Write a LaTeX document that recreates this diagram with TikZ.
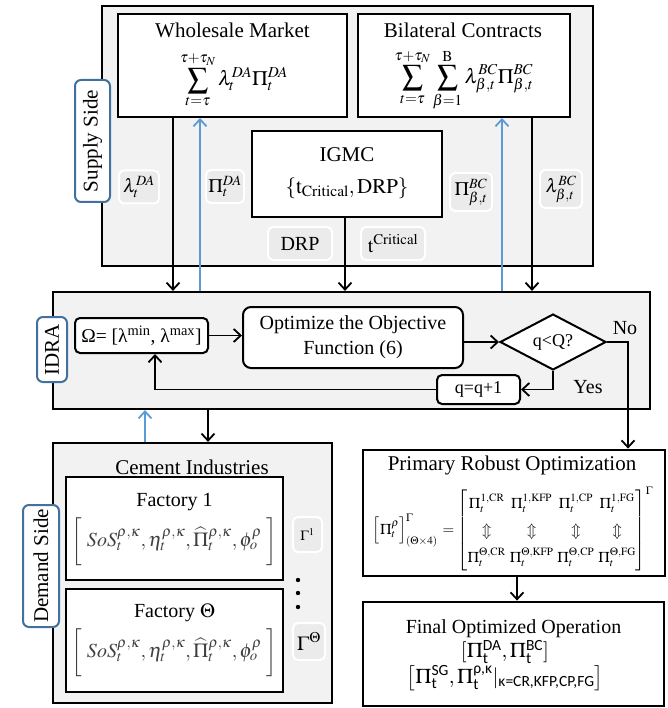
\documentclass[tikz,border=0pt]{standalone}
\usepackage{amsmath}
\usepackage{mathptmx}
\usepackage{fontspec}
\setmainfont{Liberation Serif}
\newfontfamily\carl{Carlito}
\usetikzlibrary{arrows.meta,shapes.geometric}
\definecolor{bgray}{HTML}{F2F2F2}
\definecolor{lblue}{HTML}{5B9BD5}
\definecolor{sblue}{HTML}{41719C}
\definecolor{lbl}{HTML}{EBEBEB}
\tikzset{
 grp/.style={draw, line width=2.2pt, fill=bgray, inner sep=0pt},
 wbox/.style={draw, line width=2pt, fill=white, align=center, inner sep=0pt},
 side/.style={draw=sblue, line width=2pt, fill=white, rounded corners=6pt, rotate=90, inner sep=0pt, font=\fontsize{21}{24}\selectfont},
 lab/.style={draw=white, line width=2pt, fill=lbl, rounded corners=5pt, inner sep=0pt},
 arr/.style={line width=1.8pt, -{Straight Barb[length=7pt,width=13pt,line width=1.8pt]}},
 barr/.style={arr, draw=lblue},
 rbox/.style={draw, line width=2pt, fill=white, rounded corners=8pt, align=center, inner sep=0pt},
 txt/.style={inner sep=0pt, align=center},
}
\begin{document}
\begin{tikzpicture}[x=1pt,y=-1pt]
\useasboundingbox (0,0) rectangle (667,708);
% ---------------- Supply side ----------------
\node[grp, minimum width=491pt, minimum height=260pt] (supply) at (347.5,136) {};
\node[wbox, minimum width=229pt, minimum height=103pt] (ws) at (232.5,65.5) {};
\node[txt, font=\fontsize{21}{24}\selectfont] (wst) at (232.5,30) {Wholesale Market};
\node[txt, font=\fontsize{20.5}{24}\selectfont] (wsf) at (234,80) {$\displaystyle\sum_{t=\tau}^{\tau+\tau_N}\lambda_t^{DA}\Pi_t^{DA}$};
\node[wbox, minimum width=212pt, minimum height=103pt] (bc) at (464,65.5) {};
\node[txt, font=\fontsize{21}{24}\selectfont] (bct) at (463,30) {Bilateral Contracts};
\node[txt, font=\fontsize{20.5}{24}\selectfont] (bcf) at (464,80) {$\displaystyle\sum_{t=\tau}^{\tau+\tau_N}\sum_{\beta=1}^{\mathrm{B}}\lambda_{\beta,t}^{BC}\Pi_{\beta,t}^{BC}$};
\node[wbox, minimum width=190pt, minimum height=86pt] (igmc) at (347,174) {};
\node[txt, font=\fontsize{21}{24}\selectfont] (igmct) at (347,155) {IGMC};
\node[txt, font=\fontsize{21}{24}\selectfont] (igmcf) at (347,188) {$\{\mathrm{t}_{\mathrm{Critical}},\mathrm{DRP}\}$};
\node[side, minimum width=122pt, minimum height=35pt] (sside) at (92.5,141) {Supply Side};
% labels
\node[lab, minimum width=40pt, minimum height=33pt, font=\fontsize{19}{22}\selectfont] (l1) at (139,187) {$\lambda_t^{DA}$};
\node[lab, minimum width=38pt, minimum height=33pt, font=\fontsize{19}{22}\selectfont] (l2) at (225,186.5) {$\Pi_t^{DA}$};
\node[lab, minimum width=64pt, minimum height=33pt, font=\fontsize{20}{24}\selectfont] (l3) at (300,243.5) {DRP};
\node[lab, minimum width=64pt, minimum height=33pt, font=\fontsize{20}{24}\selectfont] (l4) at (393,243.5) {$\mathrm{t}^{\mathrm{Critical}}$};
\node[lab, minimum width=42pt, minimum height=38pt, font=\fontsize{19}{22}\selectfont] (l5) at (471,192) {$\Pi_{\beta,t}^{BC}$};
\node[lab, minimum width=42pt, minimum height=38pt, font=\fontsize{19}{22}\selectfont] (l6) at (561,189) {$\lambda_{\beta,t}^{BC}$};
% ---------------- IDRA ----------------
\node[grp, minimum width=597pt, minimum height=117pt] (idra) at (351.5,350.5) {};
\node[side, minimum width=65pt, minimum height=30pt] (iside) at (52,349.5) {IDRA};
\node[rbox, rounded corners=5pt, minimum width=133pt, minimum height=35pt, font=\fontsize{19.5}{22}\selectfont] (omega) at (141.5,335.5) {Ω= [λ\textsuperscript{min}, λ\textsuperscript{max}]};
\node[rbox, minimum width=220pt, minimum height=61pt, font=\fontsize{20}{25}\selectfont] (opt) at (353,337.5) {Optimize the Objective\\Function (6)};
\node[diamond, draw, line width=2pt, fill=white, inner sep=0pt, minimum width=106pt, minimum height=52pt, font=\fontsize{18}{22}\selectfont] (dia) at (553,342) {q<Q?};
\node[rbox, rounded corners=5pt, minimum width=83pt, minimum height=29pt, font=\fontsize{18}{22}\selectfont] (qb) at (478.5,389.5) {q=q+1};
\node[txt, font=\fontsize{20}{24}\selectfont] (no) at (625,328) {No};
\node[txt, font=\fontsize{20}{24}\selectfont] (yes) at (588,387) {Yes};
% ---------------- Demand side ----------------
\node[grp, minimum width=279pt, minimum height=260pt] (dem) at (192.5,573) {};
\node[txt, font=\fontsize{21}{24}\selectfont] (demt) at (192,467) {Cement Industries};
\node[wbox, line width=2.6pt, minimum width=217pt, minimum height=103pt] (f1) at (174.5,528.5) {};
\node[txt, font=\fontsize{20}{24}\selectfont] (f1t) at (174.5,502) {Factory 1};
\node[txt, text=black!75, font=\fontsize{20}{24}\selectfont] (f1v) at (174.5,542) {$\left[\rule[-20pt]{0pt}{46pt}\;SoS_t^{\rho,\kappa},\eta_t^{\rho,\kappa},\widehat{\Pi}_t^{\rho,\kappa},\phi_o^{\rho}\;\right]$};
\node[wbox, line width=2.6pt, minimum width=217pt, minimum height=103pt] (f2) at (174.5,640.5) {};
\node[txt, font=\fontsize{20}{24}\selectfont] (f2t) at (174.5,613) {Factory $\Theta$};
\node[txt, text=black!75, font=\fontsize{20}{24}\selectfont] (f2v) at (174.5,653) {$\left[\rule[-20pt]{0pt}{46pt}\;SoS_t^{\rho,\kappa},\eta_t^{\rho,\kappa},\widehat{\Pi}_t^{\rho,\kappa},\phi_o^{\rho}\;\right]$};
\node[lab, minimum width=29pt, minimum height=35pt, font=\fontsize{14}{16}\selectfont] (g1) at (307.5,534.5) {$\Gamma^{1}$};
\node[lab, minimum width=32pt, minimum height=37pt, font=\fontsize{20}{24}\selectfont] (g2) at (309,641.5) {$\Gamma^{\Theta}$};
\foreach \yy [count=\i] in {580,593,607} \fill (298,\yy) circle (2.2pt) coordinate (dot\i);
\node[side, minimum width=122pt, minimum height=36pt] (dside) at (41,566) {Demand Side};
% ---------------- Primary robust ----------------
\node[wbox, line width=2.8pt, minimum width=302pt, minimum height=126pt] (prim) at (514,513) {};
\node[txt, font=\fontsize{21}{24}\selectfont] (primt) at (512,465) {Primary Robust Optimization};
\node[txt, font=\fontsize{15}{18}\selectfont] (primm) at (513,529) {\renewcommand{\arraystretch}{1.5}\setlength{\arraycolsep}{2pt}$\Bigl[\Pi_t^{\rho}\Bigr]^{\Gamma}_{(\Theta\times 4)}\,=\left[\begin{matrix}
\Pi_t^{\mathrm{1,CR}} & \Pi_t^{\mathrm{1,KFP}} & \Pi_t^{\mathrm{1,CP}} & \Pi_t^{\mathrm{1,FG}}\\
\Updownarrow & \Updownarrow & \Updownarrow & \Updownarrow\\
\Pi_t^{\Theta\mathrm{,CR}} & \Pi_t^{\Theta\mathrm{,KFP}} & \Pi_t^{\Theta\mathrm{,CP}} & \Pi_t^{\Theta\mathrm{,FG}}
\end{matrix}\right]^{\Gamma}$};
% ---------------- Final ----------------
\node[wbox, line width=2.8pt, minimum width=301pt, minimum height=104pt] (fin) at (513.5,654) {};
\node[txt, font=\fontsize{20}{24}\selectfont] (fint) at (513.5,629) {Final Optimized Operation};
\node[txt, font=\fontsize{21}{24}\selectfont] (fin2) at (505,652) {$[\Pi_{\text{\carl t}}^{\text{\carl DA}},\Pi_{\text{\carl t}}^{\text{\carl BC}}]$};
\node[txt, font=\fontsize{21}{24}\selectfont] (fin3) at (505,678) {$\bigl[\Pi_{\text{\carl t}}^{\text{\carl SG}},\Pi_{\text{\carl t}}^{\text{\carl ρ,κ}}|_{\text{\carl κ=CR,KFP,CP,FG}}\bigr]$};
% ---------------- Connectors ----------------
\draw[arr] ([xshift=-59.5pt]ws.south) -- ([xshift=-59.5pt]ws.south |- idra.north);
\draw[barr] ([xshift=-32.5pt]ws.south |- idra.north) -- ([xshift=-32.5pt]ws.south);
\draw[arr] ([xshift=-2pt]igmc.south) -- ([xshift=-2pt]igmc.south |- idra.north);
\draw[barr] ([xshift=38pt]bc.south |- idra.north) -- ([xshift=38pt]bc.south);
\draw[arr] ([xshift=68pt]bc.south) -- ([xshift=68pt]bc.south |- idra.north);
\draw[barr] ([xshift=-47.5pt]dem.north) -- ([xshift=-47.5pt]dem.north |- idra.south);
\draw[arr] ([xshift=15.5pt]dem.north |- idra.south) -- ([xshift=15.5pt]dem.north);
\draw[arr] (omega.east) -- (omega.east -| opt.west);
\draw[arr] (opt.east |- dia.west) -- (dia.west);
\draw[arr] (dia.south) |- (qb.east);
\draw[arr] (qb.west) -| ([xshift=13.5pt]omega.south);
\draw[arr] (dia.east) -| ([xshift=114pt]prim.north);
\draw[arr] ([xshift=3pt]prim.south) -- ([xshift=3pt]prim.south |- fin.north);
\end{tikzpicture}
\end{document}
